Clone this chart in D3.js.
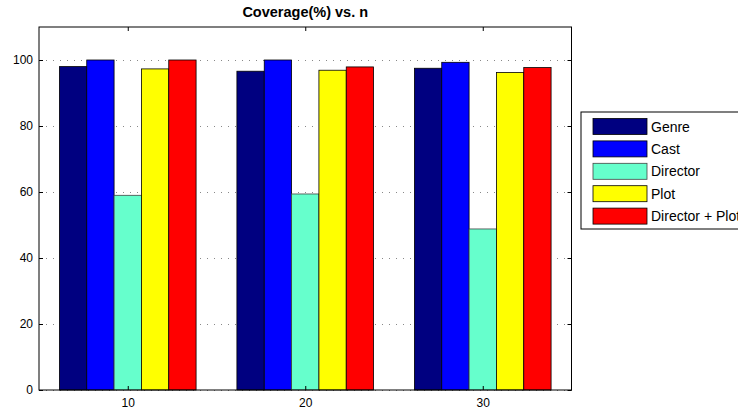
<!DOCTYPE html>
<html>
<head>
<meta charset="utf-8">
<script src="https://cdn.jsdelivr.net/npm/d3@7"></script>
<style>
  html, body { margin: 0; padding: 0; background: #fff; }
  svg { display: block; font-family: "Liberation Sans", Arial, Helvetica, sans-serif; }
</style>
</head>
<body>
<svg id="chart" width="738" height="411"></svg>
<script>
// Coverage (%) for each feature set, grouped by n
const categories = [10, 20, 30];
const seriesNames = ["Genre", "Cast", "Director", "Plot", "Director + Plot"];
const seriesColors = ["#000080", "#0000ff", "#66ffcc", "#ffff00", "#ff0000"];
const genre = [98.0, 96.6, 97.5];
const cast = [100.0, 100.0, 99.3];
const director = [59.0, 59.4, 48.8];
const plot = [97.3, 96.9, 96.2];
const directorPlot = [100.0, 97.9, 97.7];
const yTicks = [0, 20, 40, 60, 80, 100];
const chartTitle = "Coverage(%) vs. n";

const series = [genre, cast, director, plot, directorPlot];

const svg = d3.select("#chart");
const margin = { left: 39, top: 27, right: 571.5, bottom: 390 };

const x = d3.scaleLinear().domain([5, 35]).range([margin.left, margin.right]);
const y = d3.scaleLinear().domain([0, 110]).range([margin.bottom, margin.top]);

// group spans 0.77 of the category spacing, split evenly among series
const groupWidth = 7.7;
const barW = groupWidth / seriesNames.length;
const barX = (cat, i) => cat - groupWidth / 2 + i * barW;

// dotted horizontal grid
svg.append("g")
  .selectAll("line")
  .data(yTicks)
  .join("line")
  .attr("x1", margin.left)
  .attr("x2", margin.right)
  .attr("y1", d => Math.round(y(d)) + 0.5)
  .attr("y2", d => Math.round(y(d)) + 0.5)
  .attr("stroke", "#888")
  .attr("stroke-width", 1)
  .attr("stroke-dasharray", "1,6");

// bars
series.forEach((vals, i) => {
  svg.append("g")
    .selectAll("rect")
    .data(vals.map((v, j) => ({ cat: categories[j], v })))
    .join("rect")
    .attr("x", d => x(barX(d.cat, i)))
    .attr("width", x(barW) - x(0))
    .attr("y", d => y(d.v))
    .attr("height", d => y(0) - y(d.v))
    .attr("fill", seriesColors[i])
    .attr("stroke", i === 2 ? "#444" : "#000")
    .attr("stroke-width", 0.8);
});

// axes: inward ticks on all four sides
const tickLen = 4;
const axisLeft = d3.axisLeft(y).tickValues(yTicks).tickSize(-tickLen).tickPadding(6);
const axisRight = d3.axisRight(y).tickValues(yTicks).tickSize(-tickLen).tickFormat("");
const axisBottom = d3.axisBottom(x).tickValues(categories).tickSize(-tickLen).tickPadding(8);
const axisTop = d3.axisTop(x).tickValues(categories).tickSize(-tickLen).tickFormat("");

function styleAxis(g) {
  g.select(".domain").remove();
  g.selectAll(".tick line").attr("stroke", "#000");
  g.selectAll(".tick text").attr("fill", "#000").attr("font-size", 12)
    .attr("font-family", "Liberation Sans, Arial, sans-serif");
}

svg.append("g").attr("transform", `translate(${margin.left},0)`).call(axisLeft).call(styleAxis);
svg.append("g").attr("transform", `translate(${margin.right},0)`).call(axisRight).call(styleAxis);
svg.append("g").attr("transform", `translate(0,${margin.bottom})`).call(axisBottom).call(styleAxis);
svg.append("g").attr("transform", `translate(0,${margin.top})`).call(axisTop).call(styleAxis);

// axes box
svg.append("rect")
  .attr("x", margin.left)
  .attr("y", margin.top)
  .attr("width", margin.right - margin.left)
  .attr("height", margin.bottom - margin.top)
  .attr("fill", "none")
  .attr("stroke", "#000")
  .attr("stroke-width", 1);

// title
svg.append("text")
  .attr("x", (margin.left + margin.right) / 2)
  .attr("y", 17)
  .attr("text-anchor", "middle")
  .attr("font-size", 14.5)
  .attr("font-weight", "bold")
  .text(chartTitle);

// legend
const legend = svg.append("g");
legend.append("rect")
  .attr("x", 581)
  .attr("y", 112)
  .attr("width", 200)
  .attr("height", 117)
  .attr("fill", "#fff")
  .attr("stroke", "#000")
  .attr("stroke-width", 1);

const rows = legend.selectAll("g.row")
  .data(seriesNames)
  .join("g")
  .attr("class", "row")
  .attr("transform", (d, i) => `translate(593,${118.5 + i * 22.4})`);

rows.append("rect")
  .attr("width", 54)
  .attr("height", 16)
  .attr("fill", (d, i) => seriesColors[i])
  .attr("stroke", (d, i) => i === 2 ? "#444" : "#000")
  .attr("stroke-width", 0.8);

rows.append("text")
  .attr("x", 58)
  .attr("y", 13)
  .attr("font-size", 14)
  .attr("fill", "#000")
  .text(d => d);
</script>
</body>
</html>
